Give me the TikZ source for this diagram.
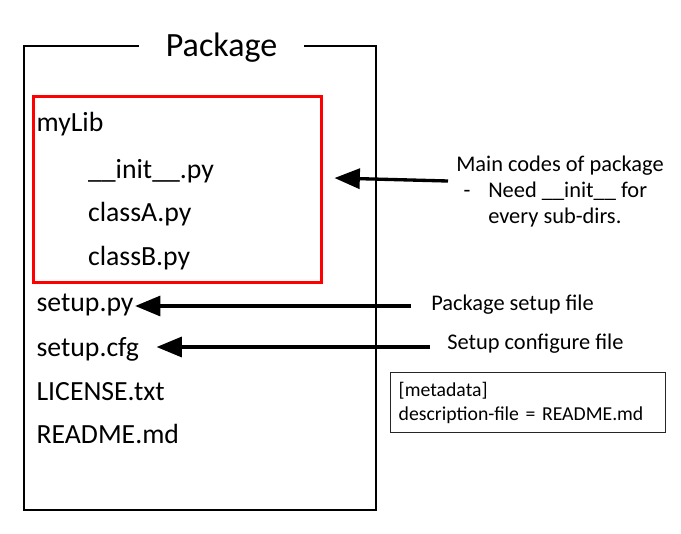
\documentclass[tikz,border=0pt]{standalone}
\usepackage{fontspec}
\setmainfont{Carlito}
\usetikzlibrary{arrows.meta}

\tikzset{
  frame/.style={line width=2pt},
  libbox/.style={draw=red, line width=2.25pt, inner sep=0pt},
  filename/.style={anchor=base west, inner sep=1pt, font=\fontsize{20.8pt}{24pt}\selectfont},
  note/.style={anchor=base west, inner sep=0pt, align=left, font=\fontsize{16.8pt}{19.2pt}\selectfont},
  metabox/.style={draw=black!85, line width=1.1pt, anchor=north west, align=left, inner xsep=6pt, inner ysep=0pt,
    text width=194pt, minimum height=45pt, font=\fontsize{14.8pt}{18pt}\selectfont},
  pointer/.style={line width=2.5pt, -{Triangle[length=19pt,width=15pt]}}
}

\begin{document}
\begin{tikzpicture}[x=0.75pt,y=0.75pt,yscale=-1,xscale=1]
\useasboundingbox (0,0) rectangle (681,533);

%Package frame with its title in the top edge
\node[anchor=base, minimum width=123pt, inner sep=0pt, font=\fontsize{25.5pt}{30pt}\selectfont] (pkgtitle) at (221.5,56.7) {Package};
\coordinate (frametl) at (24,46);
\coordinate (framebr) at (376,510);
\draw[frame] (pkgtitle.west |- frametl) -- (frametl) |- (framebr) |- (pkgtitle.east |- frametl);

%Library folder
\node[libbox, minimum width=216pt, minimum height=139.5pt] (mylib) at (177,189) {};

% File names
\node[filename] (mylibname) at (35,131.7) {myLib};
\node[filename] (initpy) at (86.5,178.3) {\_\_init\_\_.py};
\node[filename] (classa) at (86.5,221.7) {classA.py};
\node[filename] (classb) at (86.5,265) {classB.py};
\node[filename] (setuppy) at (35,311.7) {setup.py};
\node[filename] (setupcfg) at (35,356.7) {setup.cfg};
\node[filename] (license) at (35,400) {LICENSE.txt};
\node[filename] (readme) at (35,443.5) {README.md};

% Notes (base = last line)
\node[note] (mainnote) at (456,223) {Main codes of package\\
  \makebox[0pt][l]{\hspace*{5.5pt}-}\hspace*{24pt}Need \_\_init\_\_ for\\
  \hspace*{24pt}every sub-dirs.};
\node[note] (setupnote) at (431,310) {Package setup file};
\node[note] (cfgnote) at (447,349) {Setup configure file};
\node[metabox] (metadata) at (390,372) {[metadata]\\description-file = README.md};

% Arrows
\coordinate (tailmain) at (448,181);
\coordinate (tailpy) at (411,306);
\coordinate (tailcfg) at (430,347);
\draw[pointer] (tailmain) -- ([shift={(12,-11)}]mylib.east);
\draw[pointer] (tailpy) -- (setuppy.east |- tailpy);
\draw[pointer, shorten >=12pt] (tailcfg) -- (setupcfg.east |- tailcfg);

\end{tikzpicture}
\end{document}
